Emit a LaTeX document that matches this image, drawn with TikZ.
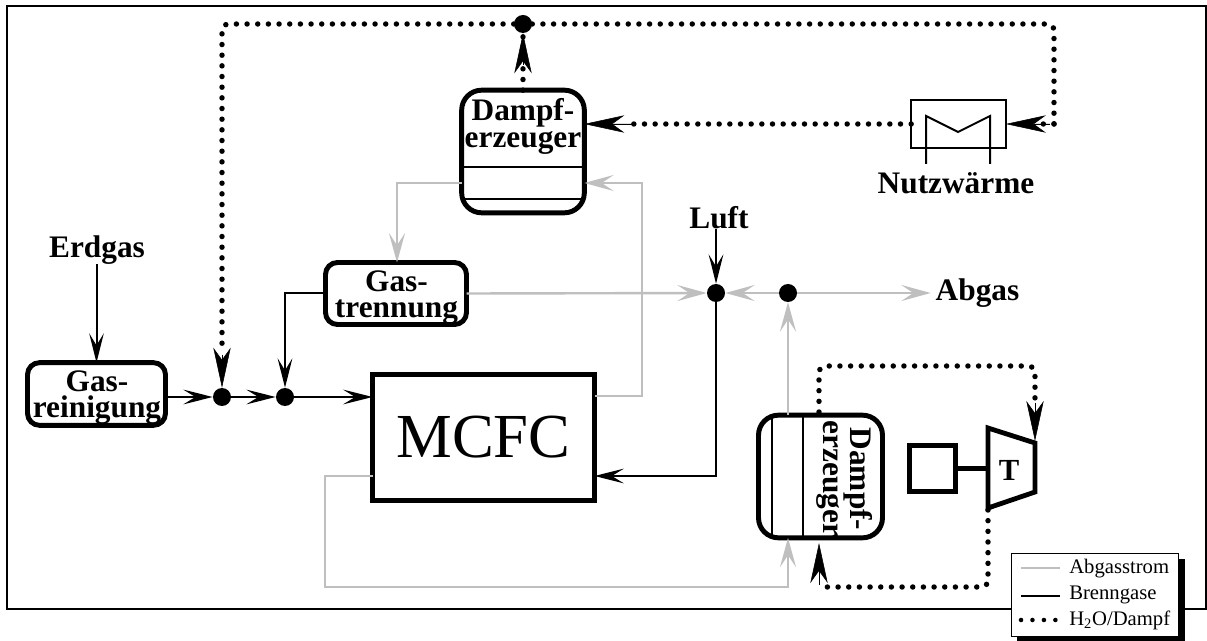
\documentclass[tikz,border=0pt]{standalone}
\usepackage{fontspec}
\setmainfont{Liberation Serif}
\usetikzlibrary{arrows.meta,calc}
\definecolor{gasgrey}{gray}{0.75}
\newcommand{\bigbold}{\fontsize{23.5}{20.25}\selectfont\bfseries}
\newcommand{\tightbold}{\fontsize{23.5}{19.5}\selectfont\bfseries}
\newcommand{\legendfont}{\fontsize{15.5}{15.5}\selectfont}
\tikzset{
  px/.style={x=0.75pt,y=-0.75pt},
  thickbox/.style={draw=black,line width=3.7pt,rounded corners=15pt,inner sep=0pt,outer sep=0pt,fill=white},
  label/.style={inner sep=0pt,outer sep=0pt,align=center,font=\bigbold},
  junction/.style={circle,fill=black,inner sep=0pt,minimum size=13.5pt},
  fuel/.style={draw=black,line width=1.5pt,-{Stealth[length=22pt,width=11pt,inset=9pt]}},
  fuelline/.style={draw=black,line width=1.5pt},
  exhaust/.style={draw=gasgrey,line width=1.8pt,-{Stealth[length=22pt,width=12pt,inset=9pt]}},
  exhaustline/.style={draw=gasgrey,line width=1.8pt},
  steam/.style={draw=black,line width=4.1pt,line cap=round,dash pattern=on 0pt off 8pt,rounded corners=5pt},
  steamtip/.style={draw=black,line width=0.4pt,solid,fill=black,-{Stealth[length=30pt,width=13pt,inset=9pt]}},
  thinline/.style={draw=black,line width=1.5pt},
}
\begin{document}
\begin{tikzpicture}[px]
\useasboundingbox (0,0) rectangle (1207,641);
\fill[white] (0,0) rectangle (1207,641);
% outer frame
\draw[line width=1.5pt] (7,6) rectangle (1206,609);

% boxes
\node[thickbox,minimum width=92pt,minimum height=92pt] (de1) at (523,151.5) {};
\node[thickbox,minimum width=105.75pt,minimum height=46.5pt,rounded corners=9pt] (gt) at (396,293.5) {};
\node[thickbox,minimum width=103.5pt,minimum height=47pt,rounded corners=9pt] (gr) at (96.5,394) {};
\node[draw=black,line width=3.8pt,inner sep=0pt,outer sep=0pt,fill=white,minimum width=166.5pt,minimum height=94.5pt,
      font=\fontsize{47}{47}\selectfont] (mcfc) at (483.5,437.5) {MCFC};
\node[thickbox,minimum width=93pt,minimum height=92pt] (de2) at (820.5,476.5) {};
\node[draw=black,line width=3.6pt,inner sep=0pt,outer sep=0pt,minimum width=34pt,minimum height=34pt] (gen) at (932.5,468.5) {};
\node[draw=black,line width=1.5pt,inner sep=0pt,outer sep=0pt,minimum width=71pt,minimum height=36pt] (hx) at (958.5,124) {};

% internal lines of steam generators
\draw[thinline] ($(de1.west)+(0,15.5)$) -- ($(de1.east)+(0,15.5)$);
\draw[thinline] ($(de1.west)+(0,47.5)$) -- ($(de1.east)+(0,47.5)$);
\draw[thinline] ($(de2.north)+(-48.5,0)$) -- ($(de2.south)+(-48.5,0)$);
\draw[thinline] ($(de2.north)+(-17.5,0)$) -- ($(de2.south)+(-17.5,0)$);

% heat exchanger coil
\draw[thinline,line join=miter] (926,164) -- (926,116) -- (958,132) -- (990,116) -- (990,164);

% turbine
\draw[line width=3.6pt,line join=miter,fill=white] (988,428) -- (1035,443) -- (1035,492) -- (988,508) -- cycle;
\coordinate (tin) at (1035,441);
\coordinate (tout) at (988,510);
\node[font=\fontsize{23}{23}\selectfont\bfseries,inner sep=0pt] (tlabel) at (1009,470) {T};
\draw[line width=3.2pt] (gen.east) -- (988,468.5);

% labels
\node[label] (lde1) at (523,126) {Dampf-\\erzeuger};
\node[label,font=\tightbold] (lgt) at (396.5,298) {Gas-\\trennung};
\node[label,font=\tightbold] (lgr) at (97,397.5) {Gas-\\reinigung};
\node[label,rotate=-90] (lde2) at (845,479) {Dampf-\\erzeuger};
\node[label] (erdgas) at (97,250) {Erdgas};
\node[label] (luft) at (719,218) {Luft};
\node[label] (abgas) at (977.5,293) {Abgas};
\node[label] (nutz) at (956,183) {Nutzwärme};

% junctions
\node[junction] (j1) at (222,397) {};
\node[junction] (j2) at (285,397) {};
\node[junction] (j3) at (716,293) {};
\node[junction] (j4) at (788,293) {};
\node[junction] (j5) at (523,24) {};

% helper coordinates
\coordinate (mcfcOutTop) at (mcfc.east |- 0,396);
\coordinate (mcfcOutLow) at (mcfc.west |- 0,476);
\coordinate (mcfcInLow) at (mcfc.east |- 0,476);
\coordinate (de1grayR) at (de1.east |- 0,183);
\coordinate (de1grayL) at (de1.west |- 0,183);
\coordinate (de1steamR) at (de1.east |- 0,124);
\coordinate (de2top) at (j4 |- de2.north);
\coordinate (de2bot) at (j4 |- de2.south);
\coordinate (de2steamT) at (819,412);
\coordinate (de2steamB) at (819,543);
\coordinate (abgastip) at ($(abgas.west)+(-5,0)$);

% grey exhaust gas paths
\draw[exhaust] (mcfcOutTop) -- (642,396) -- (642,183) -- (de1grayR);
\draw[exhaust] (de1grayL) -- (397,183) -- (gt.north -| 397,0);
\draw[exhaust] (gt.east) -- (j3);
\draw[exhaust] (j4) -- (j3);
\draw[exhaust] (j4) -- (abgastip);
\draw[exhaust] (de2top) -- (j4);
\draw[exhaust] (mcfcOutLow) -- (325,476) -- (325,587) -- (788,587) -- (de2bot);

% black fuel gas paths
\draw[fuel] (erdgas.south -| gr.north) -- (gr.north);
\draw[fuel] (gr.east |- j1) -- (j1);
\draw[fuel] (j1) -- (j2);
\draw[fuel] (j2) -- (mcfc.west |- j2);
\draw[fuel] (gt.west) -- (285,293.5) -- (j2);
\draw[fuel] (luft.south -| j3) -- (j3);
\draw[fuel] (j3) -- (716,476) -- (mcfcInLow);

% steam paths
\draw[steam] (de1.north -| j5) -- (j5);
\draw[steam] (j5) -- (222,24) -- (222,350);
\draw[steam] (j5) -- (1054,24) -- (1054,124);
\draw[steam] (1054,124) -- (1040,124);
\draw[steam] (hx.west) -- (625,124);
\draw[steam] (de2steamT) -- (819,366) -- (1035,366) -- (1035,405);
\draw[steam] (tout) -- (988,587) -- (819,587);

% steam arrow heads
\path[steamtip] (523,65) -- (j5);
\path[steamtip] (222,355) -- (j1);
\path[steamtip] (1050,124) -- (hx.east);
\path[steamtip] (632,124) -- (de1steamR);
\path[steamtip] (1035,403) -- (tin);
\path[steamtip] (819,585) -- (de2steamB);

% legend
\fill[black] (1017,559) rectangle (1185,641);
\node[draw=black,line width=1.1pt,fill=white,inner sep=0pt,outer sep=0pt,minimum width=125pt,minimum height=62pt] (legend) at (1095,595) {};
\coordinate (lg1a) at (1021,568); \coordinate (lg1b) at (1060,568);
\coordinate (lg2a) at (1021,596); \coordinate (lg2b) at (1060,596);
\coordinate (lg3a) at (1021,620); \coordinate (lg3b) at (1058,620);
\draw[exhaustline] (lg1a) -- (lg1b);
\draw[fuelline] (lg2a) -- (lg2b);
\draw[steam,line width=3.4pt,dash pattern=on 0pt off 8.6pt] (lg3a) -- (lg3b);
\node[anchor=west,inner sep=0pt,font=\legendfont] (lt1) at (1069,569) {Abgasstrom};
\node[anchor=west,inner sep=0pt,font=\legendfont] (lt2) at (1069,595) {Brenngase};
\node[anchor=west,inner sep=0pt,font=\legendfont] (lt3) at (1069,620) {H\textsubscript{2}O/Dampf};
\end{tikzpicture}
\end{document}
